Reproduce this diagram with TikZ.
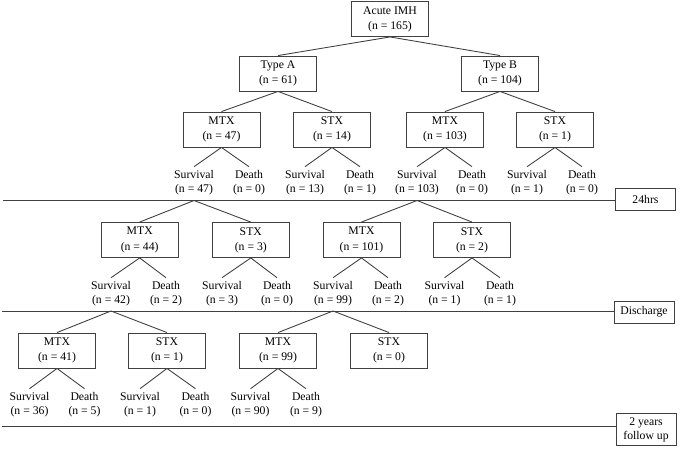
\documentclass[tikz,border=0pt]{standalone}
\usepackage{fontspec}
\setmainfont{Liberation Serif}

\begin{document}
\begin{tikzpicture}[
x=0.03cm, y=-0.03cm,
line width=0.75pt, draw=black!75,
boxnode/.style={rectangle, draw=black!75, minimum width=2.31cm, minimum height=1.05cm, align=center, font=\fontsize{10}{13}\selectfont},
endnode/.style={align=center, inner sep=3pt, font=\fontsize{10}{12}\selectfont},
stagenode/.style={rectangle, draw=black!75, minimum width=1.8cm, minimum height=0.66cm, align=center, inner sep=3pt, font=\fontsize{10}{12}\selectfont}
]
    \useasboundingbox (0,0) rectangle (685,448);

    \node [boxnode] (r) at (390,19) {Acute IMH\\(n = 165)};
    \node [boxnode] (a) at (278,73.5) {Type A\\(n = 61)};
    \node [boxnode] (b) at (500,73.5) {Type B\\(n = 104)};

    \node [boxnode] (a1) at (221.5,129.5) {MTX\\(n = 47)};
    \node [boxnode] (a2) at (332,129.5) {STX\\(n = 14)};
    \node [boxnode] (b1) at (445,129.5) {MTX\\(n = 103)};
    \node [boxnode] (b2) at (555,129.5) {STX\\(n = 1)};

    \node [endnode] (a1s) at (194,183) {Survival\\(n = 47)};
    \node [endnode] (a1d) at (249,183) {Death\\(n = 0)};
    \node [endnode] (a2s) at (305,183) {Survival\\(n = 13)};
    \node [endnode] (a2d) at (360,183) {Death\\(n = 1)};
    \node [endnode] (b1s) at (417,183) {Survival\\(n = 103)};
    \node [endnode] (b1d) at (472,183) {Death\\(n = 0)};
    \node [endnode] (b2s) at (527,183) {Survival\\(n = 1)};
    \node [endnode] (b2d) at (582,183) {Death\\(n = 0)};

    \node [stagenode] (t1) at (645.5,199) {24hrs};
    \coordinate (h1) at (3,200.5);

    \node [boxnode] (c1) at (139.7,240) {MTX\\(n = 44)};
    \node [boxnode] (c2) at (250.8,240) {STX\\(n = 3)};
    \node [boxnode] (d1) at (361.5,240) {MTX\\(n = 101)};
    \node [boxnode] (d2) at (472,240) {STX\\(n = 2)};

    \node [endnode] (c1s) at (111,294) {Survival\\(n = 42)};
    \node [endnode] (c1d) at (166,294) {Death\\(n = 2)};
    \node [endnode] (c2s) at (222,294) {Survival\\(n = 3)};
    \node [endnode] (c2d) at (277,294) {Death\\(n = 0)};
    \node [endnode] (d1s) at (333,294) {Survival\\(n = 99)};
    \node [endnode] (d1d) at (388,294) {Death\\(n = 2)};
    \node [endnode] (d2s) at (444.5,294) {Survival\\(n = 1)};
    \node [endnode] (d2d) at (500,294) {Death\\(n = 1)};

    \node [stagenode] (t2) at (644,312) {Discharge};
    \coordinate (h2) at (2,311);

    \node [boxnode] (e1) at (57,350.5) {MTX\\(n = 41)};
    \node [boxnode] (e2) at (167,350.5) {STX\\(n = 1)};
    \node [boxnode] (f1) at (278,350.5) {MTX\\(n = 99)};
    \node [boxnode] (f2) at (389,350.5) {STX\\(n = 0)};

    \node [endnode] (e1s) at (29.5,405) {Survival\\(n = 36)};
    \node [endnode] (e1d) at (84.5,405) {Death\\(n = 5)};
    \node [endnode] (e2s) at (140,405) {Survival\\(n = 1)};
    \node [endnode] (e2d) at (195.5,405) {Death\\(n = 0)};
    \node [endnode] (f1s) at (250.5,405) {Survival\\(n = 90)};
    \node [endnode] (f1d) at (306,405) {Death\\(n = 9)};

    \node [stagenode] (t3) at (646,429.5) {2 years\\follow up};
    \coordinate (h3) at (2,426.7);

    % first split
    \draw (r.south) -- (a.north);
    \draw (r.south) -- (b.north);
    \draw (a.south) -- (a1.north);
    \draw (a.south) -- (a2.north);
    \draw (b.south) -- (b1.north);
    \draw (b.south) -- (b2.north);

    \draw (a1.south) -- (a1s.north);
    \draw (a1.south) -- (a1d.north);
    \draw (a2.south) -- (a2s.north);
    \draw (a2.south) -- (a2d.north);
    \draw (b1.south) -- (b1s.north);
    \draw (b1.south) -- (b1d.north);
    \draw (b2.south) -- (b2s.north);
    \draw (b2.south) -- (b2d.north);

    % 24hrs
    \draw (h1) -- (h1 -| t1.west);
    \draw (h1 -| a1s) -- (c1.north);
    \draw (h1 -| a1s) -- (c2.north);
    \draw (h1 -| b1s) -- (d1.north);
    \draw (h1 -| b1s) -- (d2.north);

    \draw (c1.south) -- (c1s.north);
    \draw (c1.south) -- (c1d.north);
    \draw (c2.south) -- (c2s.north);
    \draw (c2.south) -- (c2d.north);
    \draw (d1.south) -- (d1s.north);
    \draw (d1.south) -- (d1d.north);
    \draw (d2.south) -- (d2s.north);
    \draw (d2.south) -- (d2d.north);

    % discharge
    \draw (h2) -- (h2 -| t2.west);
    \draw (h2 -| c1s) -- (e1.north);
    \draw (h2 -| c1s) -- (e2.north);
    \draw (h2 -| d1s) -- (f1.north);
    \draw (h2 -| d1s) -- (f2.north);

    \draw (e1.south) -- (e1s.north);
    \draw (e1.south) -- (e1d.north);
    \draw (e2.south) -- (e2s.north);
    \draw (e2.south) -- (e2d.north);
    \draw (f1.south) -- (f1s.north);
    \draw (f1.south) -- (f1d.north);

    % 2 years
    \draw (h3) -- (h3 -| t3.west);
\end{tikzpicture}
\end{document}
